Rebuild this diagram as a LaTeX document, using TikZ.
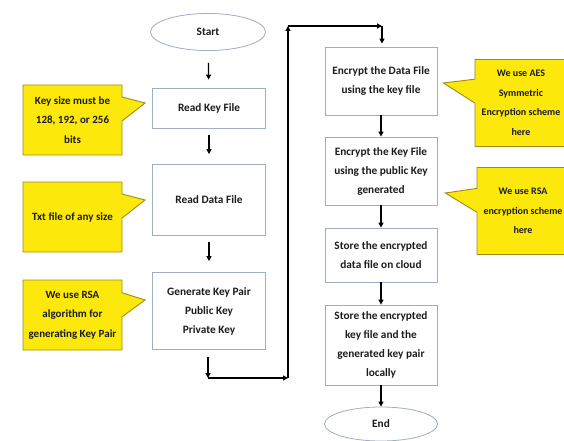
\documentclass[tikz,border=0pt]{standalone}
\usepackage{fontspec}
\setmainfont{Carlito}
\usetikzlibrary{arrows.meta,positioning,shapes.geometric,shapes.callouts,calc}
\definecolor{boxline}{RGB}{160,172,194}
\definecolor{notefill}{RGB}{252,232,10}
\definecolor{noteline}{RGB}{160,140,20}
\definecolor{inktext}{RGB}{28,28,28}
\tikzset{
  stepbox/.style={draw=boxline,line width=0.8pt,fill=white,minimum width=113pt,align=center,
    inner sep=2pt,text=inktext,font=\bfseries\fontsize{11.3}{19}\selectfont},
  termbox/.style={stepbox,ellipse,inner sep=0pt},
  notebox/.style={rectangle callout,draw=noteline,fill=notefill,line width=0.9pt,align=center,
    minimum width=99pt,minimum height=70pt,inner sep=1pt,callout pointer width=24pt,
    text=inktext,font=\bfseries\fontsize{11}{19.5}\selectfont},
  sidenote/.style={notebox,minimum width=92pt,minimum height=87pt,font=\bfseries\fontsize{10}{19.5}\selectfont},
  gapflow/.style={-{Triangle[length=5pt,width=5pt]},line width=1.3pt,shorten <=7pt,shorten >=10pt},
  mainflow/.style={-{Triangle[length=5pt,width=5pt]},line width=1.3pt},
  longflow/.style={-{Triangle[length=5pt,width=5pt]},line width=1.8pt}
}
\begin{document}
\begin{tikzpicture}[x=1pt,y=-1pt]
  \useasboundingbox (0,0) rectangle (564,441);
  \clip (0,0) rectangle (564,441);
  % left column
  \node[termbox,minimum width=115pt,minimum height=37pt] (start) at (208,32) {Start};
  \node[stepbox,minimum height=40pt] (rkey) at (209,108) {Read Key File};
  \node[stepbox,minimum height=71pt] (rdata) at (209,200) {Read Data File};
  \node[stepbox,minimum height=77pt] (gen) at (209,311) {Generate Key Pair\\Public Key\\Private Key};

  % right column
  \node[stepbox,minimum width=112pt,minimum height=68pt] (encd) at (381,81) {Encrypt the Data File\\using the key file};
  \node[stepbox,minimum width=112pt,minimum height=68pt] (enck) at (381,171) {Encrypt the Key File\\using the public Key\\generated};
  \node[stepbox,minimum width=112pt,minimum height=54pt] (stord) at (381,255) {Store the encrypted\\data file on cloud};
  \node[stepbox,minimum width=112pt,minimum height=80pt] (stork) at (381,345) {Store the encrypted\\key file and the\\generated key pair\\locally};
  \node[termbox,minimum width=113pt,minimum height=34pt] (end) at (381,424) {End};

  % notes
  \node[notebox,callout absolute pointer={($(rkey.west)+(-7,-5)$)}] (nkey) at (72.5,120) {Key size must be\\128, 192, or 256\\bits};
  \node[notebox,callout absolute pointer={($(rdata.west)+(-7,0)$)}] (ntxt) at (72.5,217) {Txt file of any size};
  \node[notebox,callout absolute pointer={($(gen.west)+(-7,-11)$)}] (nrsa) at (72.5,315) {We use RSA\\algorithm for\\generating Key Pair};
  \node[sidenote,callout absolute pointer={($(encd.east)+(6,2)$)}] (naes) at (521,103) {We use AES\\Symmetric\\Encryption scheme\\here};
  \node[sidenote,callout absolute pointer={($(enck.east)+(8,22)$)}] (nenc) at (523,211) {We use RSA\\encryption scheme\\here};

  % connectors
  \coordinate (c1) at (208,378);
  \coordinate (c2) at (288,378);
  \coordinate (c3) at (288,26);
  \coordinate (c4) at (382,26);
  \draw[gapflow,shorten <=12pt,shorten >=8pt] (start) -- (rkey);
  \draw[gapflow] (rkey) -- (rdata);
  \draw[gapflow,shorten <=6pt,shorten >=11pt] (rdata) -- (gen);
  \draw[longflow,shorten <=7pt] (gen.south -| c1) -- (c1);
  \draw[longflow] (c1) -- (c2);
  \draw[longflow] (c2) -- (c3);
  \draw[longflow] (c3) -- (c4);
  \draw[longflow,shorten >=3pt] (c4) -- (encd.north -| c4);
  \draw[mainflow] (encd) -- (enck);
  \draw[mainflow] (enck) -- (stord);
  \draw[mainflow] (stord) -- (stork);
  \draw[mainflow] (stork) -- (end);
\end{tikzpicture}
\end{document}
